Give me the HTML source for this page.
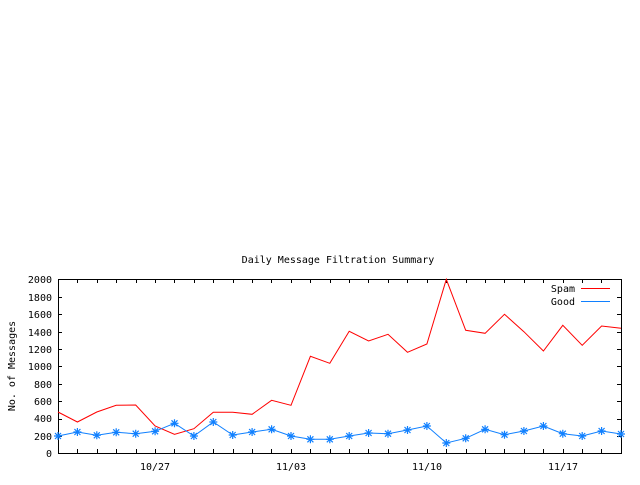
<!DOCTYPE html>
<html><head><style>
body{margin:0;background:#fff;width:640px;height:480px;overflow:hidden}
text{font-family:"DejaVu Sans Mono","Liberation Mono",monospace;font-size:10px;fill:#000}
</style></head><body>
<svg width="640" height="480" xmlns="http://www.w3.org/2000/svg" shape-rendering="crispEdges">
<text x="338" y="263" text-anchor="middle">Daily Message Filtration Summary</text>
<text transform="translate(15,366) rotate(-90)" text-anchor="middle">No. of Messages</text>
<g text-anchor="end">
<text x="52" y="457">0</text><text x="52" y="440">200</text><text x="52" y="422">400</text><text x="52" y="405">600</text><text x="52" y="388">800</text><text x="52" y="370">1000</text><text x="52" y="353">1200</text><text x="52" y="336">1400</text><text x="52" y="318">1600</text><text x="52" y="301">1800</text><text x="52" y="283">2000</text>
</g>
<g text-anchor="middle">
<text x="155" y="470">10/27</text><text x="291" y="470">11/03</text><text x="427" y="470">11/10</text><text x="563" y="470">11/17</text>
</g>
<g stroke="#000" stroke-width="1">
<rect x="58.5" y="279.5" width="563" height="174" fill="none"/>
<path d="M58 436.5h4M58 419.5h4M58 401.5h4M58 384.5h4M58 366.5h4M58 349.5h4M58 332.5h4M58 314.5h4M58 297.5h4M621 436.5h-4M621 419.5h-4M621 401.5h-4M621 384.5h-4M621 366.5h-4M621 349.5h-4M621 332.5h-4M621 314.5h-4M621 297.5h-4"/>
<path d="M77.5 453v-4M97.5 453v-4M116.5 453v-4M136.5 453v-4M155.5 453v-4M174.5 453v-4M194.5 453v-4M213.5 453v-4M233.5 453v-4M252.5 453v-4M271.5 453v-4M291.5 453v-4M310.5 453v-4M330.5 453v-4M349.5 453v-4M368.5 453v-4M388.5 453v-4M407.5 453v-4M427.5 453v-4M446.5 453v-4M466.5 453v-4M485.5 453v-4M504.5 453v-4M524.5 453v-4M543.5 453v-4M563.5 453v-4M582.5 453v-4M601.5 453v-4
M77.5 279v4M97.5 279v4M116.5 279v4M136.5 279v4M155.5 279v4M174.5 279v4M194.5 279v4M213.5 279v4M233.5 279v4M252.5 279v4M271.5 279v4M291.5 279v4M310.5 279v4M330.5 279v4M349.5 279v4M368.5 279v4M388.5 279v4M407.5 279v4M427.5 279v4M446.5 279v4M466.5 279v4M485.5 279v4M504.5 279v4M524.5 279v4M543.5 279v4M563.5 279v4M582.5 279v4M601.5 279v4"/>
</g>
<g shape-rendering="auto" fill="none">
<polyline stroke="#ff0000" stroke-width="1" points="58,412 77.4,422 96.8,412 116.2,405.3 135.7,405 155.1,426 174.5,434.3 193.9,428.7 213.3,412.3 232.7,412.3 252.1,414.3 271.6,400.3 291,405.3 310.4,356.3 329.8,363.3 349.2,331.3 368.6,341 388,334.3 407.5,352.3 426.9,344 446.3,279.3 465.7,330.3 485.1,333.3 504.5,314.3 523.9,331.7 543.4,351 562.8,325.3 582.2,345.3 601.6,326 621,328.3"/>
<polyline id="g" stroke="#1080ff" stroke-width="1" points="58,436 77.4,432 96.8,435.3 116.2,432.3 135.7,433.7 155.1,431.3 174.5,423.3 193.9,436 213.3,422 232.7,435 252.1,432 271.6,429.3 291,436 310.4,439.3 329.8,439.3 349.2,436 368.6,433 388,433.7 407.5,430 426.9,426 446.3,443 465.7,438.3 485.1,429.3 504.5,434.7 523.9,431 543.4,426 562.8,433.7 582.2,436 601.6,431 621,434"/>
</g>
<g stroke="#1080ff" stroke-width="1.2" shape-rendering="auto">
<script>/* no script */</script>
</g>
<g id="stars" stroke="#1080ff" stroke-width="1.2" shape-rendering="auto">
<path d="M-4 0h8M0 -4v8M-3 -3l6 6M-3 3l6 -6" transform="translate(58,436)"/>
<path d="M-4 0h8M0 -4v8M-3 -3l6 6M-3 3l6 -6" transform="translate(77.4,432)"/>
<path d="M-4 0h8M0 -4v8M-3 -3l6 6M-3 3l6 -6" transform="translate(96.8,435.3)"/>
<path d="M-4 0h8M0 -4v8M-3 -3l6 6M-3 3l6 -6" transform="translate(116.2,432.3)"/>
<path d="M-4 0h8M0 -4v8M-3 -3l6 6M-3 3l6 -6" transform="translate(135.7,433.7)"/>
<path d="M-4 0h8M0 -4v8M-3 -3l6 6M-3 3l6 -6" transform="translate(155.1,431.3)"/>
<path d="M-4 0h8M0 -4v8M-3 -3l6 6M-3 3l6 -6" transform="translate(174.5,423.3)"/>
<path d="M-4 0h8M0 -4v8M-3 -3l6 6M-3 3l6 -6" transform="translate(193.9,436)"/>
<path d="M-4 0h8M0 -4v8M-3 -3l6 6M-3 3l6 -6" transform="translate(213.3,422)"/>
<path d="M-4 0h8M0 -4v8M-3 -3l6 6M-3 3l6 -6" transform="translate(232.7,435)"/>
<path d="M-4 0h8M0 -4v8M-3 -3l6 6M-3 3l6 -6" transform="translate(252.1,432)"/>
<path d="M-4 0h8M0 -4v8M-3 -3l6 6M-3 3l6 -6" transform="translate(271.6,429.3)"/>
<path d="M-4 0h8M0 -4v8M-3 -3l6 6M-3 3l6 -6" transform="translate(291,436)"/>
<path d="M-4 0h8M0 -4v8M-3 -3l6 6M-3 3l6 -6" transform="translate(310.4,439.3)"/>
<path d="M-4 0h8M0 -4v8M-3 -3l6 6M-3 3l6 -6" transform="translate(329.8,439.3)"/>
<path d="M-4 0h8M0 -4v8M-3 -3l6 6M-3 3l6 -6" transform="translate(349.2,436)"/>
<path d="M-4 0h8M0 -4v8M-3 -3l6 6M-3 3l6 -6" transform="translate(368.6,433)"/>
<path d="M-4 0h8M0 -4v8M-3 -3l6 6M-3 3l6 -6" transform="translate(388,433.7)"/>
<path d="M-4 0h8M0 -4v8M-3 -3l6 6M-3 3l6 -6" transform="translate(407.5,430)"/>
<path d="M-4 0h8M0 -4v8M-3 -3l6 6M-3 3l6 -6" transform="translate(426.9,426)"/>
<path d="M-4 0h8M0 -4v8M-3 -3l6 6M-3 3l6 -6" transform="translate(446.3,443)"/>
<path d="M-4 0h8M0 -4v8M-3 -3l6 6M-3 3l6 -6" transform="translate(465.7,438.3)"/>
<path d="M-4 0h8M0 -4v8M-3 -3l6 6M-3 3l6 -6" transform="translate(485.1,429.3)"/>
<path d="M-4 0h8M0 -4v8M-3 -3l6 6M-3 3l6 -6" transform="translate(504.5,434.7)"/>
<path d="M-4 0h8M0 -4v8M-3 -3l6 6M-3 3l6 -6" transform="translate(523.9,431)"/>
<path d="M-4 0h8M0 -4v8M-3 -3l6 6M-3 3l6 -6" transform="translate(543.4,426)"/>
<path d="M-4 0h8M0 -4v8M-3 -3l6 6M-3 3l6 -6" transform="translate(562.8,433.7)"/>
<path d="M-4 0h8M0 -4v8M-3 -3l6 6M-3 3l6 -6" transform="translate(582.2,436)"/>
<path d="M-4 0h8M0 -4v8M-3 -3l6 6M-3 3l6 -6" transform="translate(601.6,431)"/>
<path d="M-4 0h8M0 -4v8M-3 -3l6 6M-3 3l6 -6" transform="translate(621,434)"/>
</g>
<g text-anchor="end">
<text x="575" y="292">Spam</text>
<text x="575" y="305">Good</text>
</g>
<path d="M581 288.5h29" stroke="#ff0000"/>
<path d="M581 301.5h29" stroke="#1080ff"/>
</svg>
</body></html>
